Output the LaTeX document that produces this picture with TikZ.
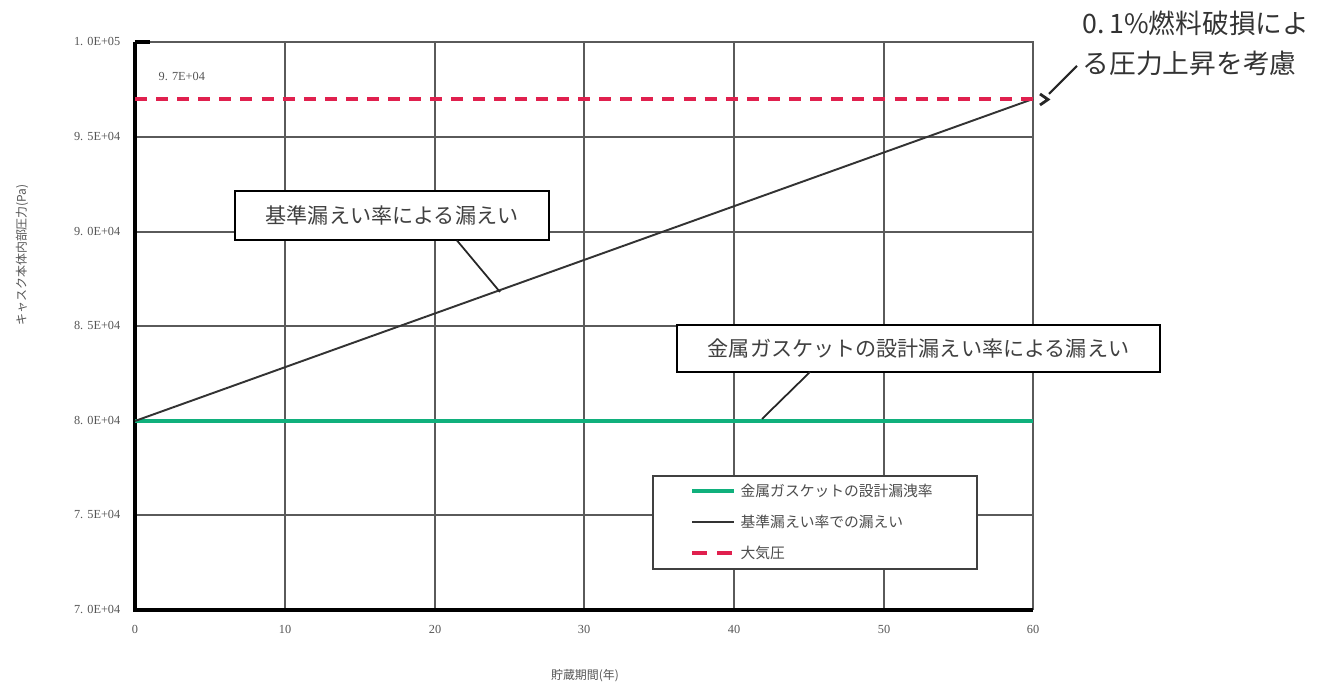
\documentclass[tikz,border=0pt]{standalone}
\usepackage{fontspec}
\setmainfont{Liberation Serif}
\newfontfamily\jp{Noto Sans CJK JP}
\definecolor{gasgreen}{HTML}{10B07C}
\definecolor{atmred}{HTML}{E0204E}
\definecolor{gridgray}{HTML}{5A5A5A}
\definecolor{labgray}{HTML}{555555}
\tikzset{
  gridline/.style={draw=gridgray, line width=0.45pt},
  ticklab/.style={font=\fontsize{3.5}{4}\selectfont, text=labgray, inner sep=0pt},
  callout/.style={draw=black, line width=0.75pt, fill=white, font=\jp\fontsize{6}{7}\selectfont, text=black!75, inner sep=0pt},
  leader/.style={draw=black!85, line width=0.5pt},
  legtext/.style={font=\jp\fontsize{4.2}{5}\selectfont, text=black!70, anchor=west, inner sep=0pt},
  greenline/.style={draw=gasgreen, line width=1.1pt},
  blackline/.style={draw=black!80, line width=0.55pt},
  redline/.style={draw=atmred, line width=1.1pt, dash pattern=on 3.4pt off 2.6pt},
  legred/.style={draw=atmred, line width=1.1pt, dash pattern=on 4.3pt off 2.9pt},
}
\begin{document}
\begin{tikzpicture}[x=0.01cm, y=-0.01cm]
\useasboundingbox (0,0) rectangle (1320,689);
% grid
\foreach \gx in {285,435,584,734,884} \draw[gridline] (\gx,42) -- (\gx,610);
\foreach \gy in {137,232,326,421,515} \draw[gridline] (135,\gy) -- (1033,\gy);
% frame
\draw[draw=gridgray, line width=0.55pt] (135,42) -- (1033,42) -- (1033,610);
\draw[black, line width=1.1pt] (135,42) -- (135,610) -- (1033,610);
\draw[black, line width=1.1pt] (135,42) -- (150,42);
% y tick labels
\foreach \lab/\gy in {{1. 0E+05}/42,{9. 5E+04}/137,{9. 0E+04}/232,{8. 5E+04}/326,{8. 0E+04}/421,{7. 5E+04}/515,{7. 0E+04}/610}
  \node[ticklab, anchor=east] at (121,\gy) {\lab};
% x tick labels
\foreach \lab/\gx in {0/135,10/285,20/435,30/584,40/734,50/884,60/1033}
  \node[ticklab, anchor=north] at (\gx,625) {\lab};
% axis titles
\node[font=\jp\fontsize{3.4}{4}\selectfont, text=labgray, rotate=90, inner sep=0pt] (ylab) at (22,255) {キャスク本体内部圧力(Pa)};
\node[font=\jp\fontsize{3.4}{4}\selectfont, text=labgray, inner sep=0pt] (xlab) at (585,676) {貯蔵期間(年)};
% data
\coordinate (g0) at (135,421);
\coordinate (g1) at (1033,421);
\coordinate (b0) at (135,421);
\coordinate (b1) at (1033,99);
\coordinate (r0) at (135,99);
\coordinate (r1) at (1033,99);
\draw[greenline] (g0) -- (g1);
\draw[blackline] (b0) -- (b1);
\draw[redline] (r0) -- (r1);
\node[ticklab, anchor=west] (lab97) at (158,77) {9. 7E+04};
% legend
\node[draw=black!75, line width=0.6pt, fill=white, minimum width=3.24cm, minimum height=0.93cm, inner sep=0pt] (leg) at (815,522.5) {};
\coordinate (l1a) at (692,491); \coordinate (l1b) at (734,491);
\coordinate (l2a) at (692,522); \coordinate (l2b) at (734,522);
\coordinate (l3a) at (692,553); \coordinate (l3b) at (734,553);
\draw[greenline] (l1a) -- (l1b);
\draw[blackline] (l2a) -- (l2b);
\draw[legred] (l3a) -- (l3b);
\node[legtext] (t1) at (740,491) {金属ガスケットの設計漏洩率};
\node[legtext] (t2) at (740,522) {基準漏えい率での漏えい};
\node[legtext] (t3) at (740,553) {大気圧};
% callout boxes
\node[callout, minimum width=3.14cm, minimum height=0.49cm] (box1) at (392,215.5) {基準漏えい率による漏えい};
\node[callout, minimum width=4.83cm, minimum height=0.47cm] (box2) at (918.5,348.5) {金属ガスケットの設計漏えい率による漏えい};
\coordinate (p1a) at (457,240.5);
\coordinate (p1b) at (500,292);
\coordinate (p2a) at (810,372);
\coordinate (p2b) at (762,419);
\draw[leader] (p1a) -- (p1b);
\draw[leader] (p2a) -- (p2b);
% top-right annotation
\node[font=\jp\fontsize{7.6}{11.4}\selectfont, text=black!80, align=left, anchor=north west, inner sep=0pt] (note) at (1082,10) {0.\,1\%燃料破損によ\\る圧力上昇を考慮};
\coordinate (n1) at (1077,66);
\coordinate (n2) at (1049,94);
\draw[leader, line width=0.6pt] (n1) -- (n2);
\draw[black!85, line width=0.8pt] (1040,94) -- (1048,99.5) -- (1040,105);
\end{tikzpicture}
\end{document}
